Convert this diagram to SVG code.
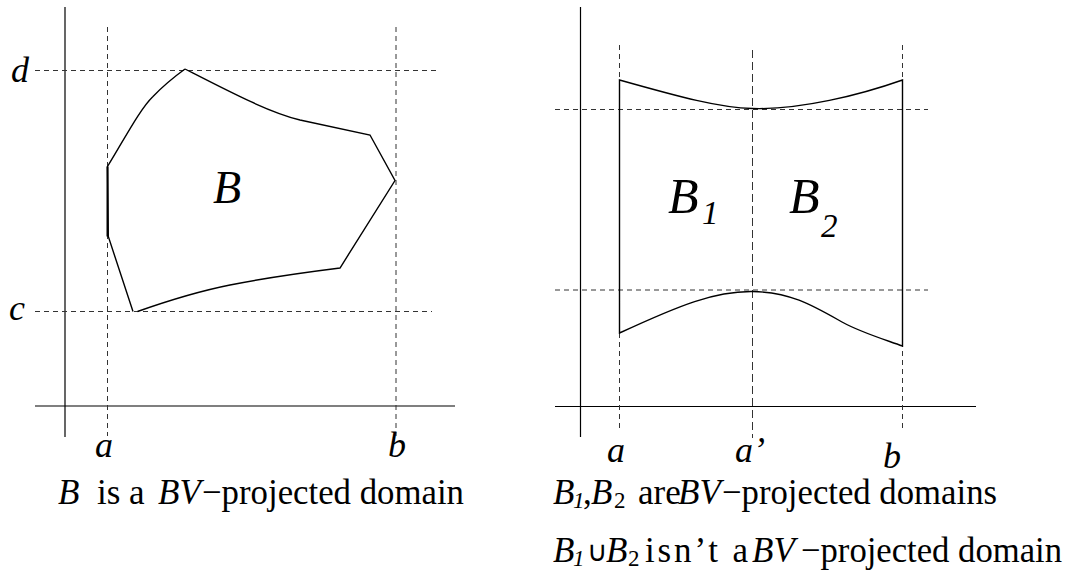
<svg xmlns="http://www.w3.org/2000/svg" width="1067" height="577" viewBox="0 0 1067 577">
<rect width="1067" height="577" fill="#fff"/>
<g id="left-axes" stroke="#000" stroke-width="1.2" fill="none">
  <line x1="65" y1="7" x2="65" y2="437"/>
  <line x1="35" y1="406" x2="455" y2="406"/>
</g>
<g id="left-guides" stroke="#333" stroke-width="1" fill="none" stroke-dasharray="5,4">
  <line x1="107.5" y1="27" x2="107.5" y2="436"/>
  <line x1="396" y1="27" x2="396" y2="436"/>
  <line x1="35" y1="70.5" x2="440" y2="70.5"/>
  <line x1="35" y1="311.5" x2="432" y2="311.5"/>
</g>
<g id="domain-B">
  <path stroke="#000" stroke-width="1.4" fill="none" d="M185,69 C230,92 268,112 300,120 L370,135 L395,180.5 L340,268 C300,273 260,279 230,285 C200,291 170,300 137.5,311.5 M133,311.5 L108.3,236.5 L107.5,166.5 C125,138 140,109 153,96.5 C163,86 174,77 185,69"/>
  <line x1="107.5" y1="166.5" x2="107.5" y2="236.5" stroke="#000" stroke-width="2"/>
</g>
<g id="right-axes" stroke="#000" stroke-width="1.2" fill="none">
  <line x1="580.5" y1="7" x2="580.5" y2="437"/>
  <line x1="555" y1="406.5" x2="976" y2="406.5"/>
</g>
<g id="right-guides" stroke="#333" stroke-width="1" fill="none" stroke-dasharray="5,4">
  <line x1="619.5" y1="45" x2="619.5" y2="430"/>
  <line x1="752.5" y1="50" x2="752.5" y2="438" stroke-dasharray="8,4"/>
  <line x1="902.5" y1="45" x2="902.5" y2="430"/>
  <line x1="555" y1="109.5" x2="928" y2="109.5"/>
  <line x1="555" y1="290" x2="928" y2="290"/>
</g>
<g id="domain-B1-B2">
  <path stroke="#000" stroke-width="1.4" fill="none" d="M619.5,80 C680,97 720,108 752.5,108.5 C800,110 860,95 902.5,80 L902.5,346 C880,338 860,332 842,322 C812,305 790,292 752.5,291.5 C715,291 680,305 619.5,333 Z"/>
</g>
<text x="213" y="203" font-family="Liberation Serif" font-style="italic" font-size="46">B</text>
<text x="11" y="82" font-family="Liberation Serif" font-style="italic" font-size="36">d</text>
<text x="9" y="320" font-family="Liberation Serif" font-style="italic" font-size="36">c</text>
<text x="95" y="457" font-family="Liberation Serif" font-style="italic" font-size="36">a</text>
<text x="388" y="457" font-family="Liberation Serif" font-style="italic" font-size="36">b</text>
<text x="58" y="504" font-family="Liberation Serif" font-style="italic" font-size="35">B</text>
<text x="97" y="504" font-family="Liberation Serif" font-size="35">is a</text>
<text x="158" y="504" font-family="Liberation Serif" font-style="italic" font-size="35">BV</text>
<text x="202" y="504" font-family="Liberation Serif" font-size="35" textLength="262" lengthAdjust="spacingAndGlyphs">−projected domain</text>
<text x="668" y="213" font-family="Liberation Serif" font-style="italic" font-size="50">B</text>
<text x="702" y="224" font-family="Liberation Serif" font-style="italic" font-size="33">1</text>
<text x="789" y="213" font-family="Liberation Serif" font-style="italic" font-size="50">B</text>
<text x="821" y="237" font-family="Liberation Serif" font-style="italic" font-size="33">2</text>
<text x="607" y="462" font-family="Liberation Serif" font-style="italic" font-size="36">a</text>
<text x="735" y="462" font-family="Liberation Serif" font-style="italic" font-size="36">a’</text>
<text x="883" y="468" font-family="Liberation Serif" font-style="italic" font-size="36">b</text>
<text x="553" y="504" font-family="Liberation Serif" font-style="italic" font-size="35">B</text>
<text x="573" y="508" font-family="Liberation Serif" font-style="italic" font-size="23">1</text>
<text x="583" y="504" font-family="Liberation Serif" font-size="35">,</text>
<text x="591" y="504" font-family="Liberation Serif" font-style="italic" font-size="35">B</text>
<text x="614" y="508" font-family="Liberation Serif" font-size="23">2</text>
<text x="638" y="504" font-family="Liberation Serif" font-size="35">are</text>
<text x="678" y="504" font-family="Liberation Serif" font-style="italic" font-size="35">BV</text>
<text x="722" y="504" font-family="Liberation Serif" font-size="35" textLength="275" lengthAdjust="spacingAndGlyphs">−projected domains</text>
<text x="553" y="562" font-family="Liberation Serif" font-style="italic" font-size="35">B</text>
<text x="573" y="566" font-family="Liberation Serif" font-style="italic" font-size="23">1</text>
<text x="587" y="561" font-family="Liberation Sans" font-size="28">∪</text>
<text x="606" y="562" font-family="Liberation Serif" font-style="italic" font-size="35">B</text>
<text x="628" y="566" font-family="Liberation Serif" font-size="23">2</text>
<text x="645" y="562" font-family="Liberation Serif" font-size="35" textLength="103" lengthAdjust="spacing">isn’t a</text>
<text x="752" y="562" font-family="Liberation Serif" font-style="italic" font-size="35">BV</text>
<text x="801" y="562" font-family="Liberation Serif" font-size="35" textLength="261" lengthAdjust="spacingAndGlyphs">−projected domain</text>
</svg>
